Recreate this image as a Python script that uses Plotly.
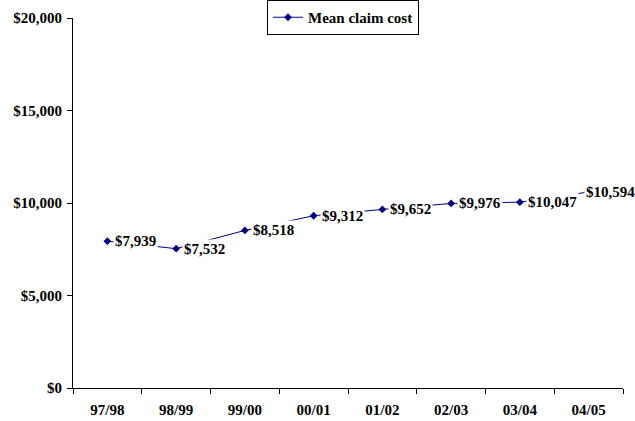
import plotly.graph_objects as go

# Mean claim cost by financial year
years = ["97/98", "98/99", "99/00", "00/01", "01/02", "02/03", "03/04", "04/05"]
mean_cost = [7939, 7532, 8518, 9312, 9652, 9976, 10047, 10594]
y_ticks = [0, 5000, 10000, 15000, 20000]
y_tick_text = [f"${v:,}" for v in y_ticks]

NAVY = "#000080"
FONT = "Liberation Serif"
SIZE = 15

fig = go.Figure()
fig.add_trace(go.Scatter(
    x=years, y=mean_cost, mode="lines+markers", name="Mean claim cost",
    line=dict(color=NAVY, width=1),
    marker=dict(symbol="diamond", size=6, color=NAVY),
))

# Data labels with a white box that hides the line behind them;
# the last one is pulled left so it stays inside the page
for i, (yr, v) in enumerate(zip(years, mean_cost)):
    last = i == len(years) - 1
    fig.add_annotation(
        x=yr, y=v, xref="x", yref="y", text=f"${v:,}", showarrow=False,
        xanchor="left", yanchor="middle", xshift=-5 if last else 6,
        bgcolor="white", borderpad=1,
        font=dict(family=FONT, size=SIZE, color="black", weight="bold"),
    )

fig.update_layout(
    width=635, height=421,
    margin=dict(l=73, r=12, t=18, b=33, autoexpand=False),
    paper_bgcolor="white", plot_bgcolor="white",
    font=dict(family=FONT, size=SIZE, color="black", weight="bold"),
    showlegend=True,
    legend=dict(
        xref="container", yref="container",
        x=267 / 635, y=1.0, xanchor="left", yanchor="top",
        bordercolor="black", borderwidth=1, bgcolor="white",
        font=dict(family=FONT, size=SIZE, color="black", weight="bold"),
        itemwidth=30, tracegroupgap=0,
    ),
)
fig.update_xaxes(
    type="category", range=[-0.5, len(years) - 0.5],
    showgrid=False, zeroline=False,
    showline=True, linecolor="black", linewidth=1,
    ticks="outside", ticklen=5, tickcolor="black", tickson="boundaries",
    ticklabelstandoff=8,
)
fig.update_yaxes(
    range=[0, 20000], tickvals=y_ticks, ticktext=y_tick_text,
    showgrid=False, zeroline=False,
    showline=True, linecolor="black", linewidth=1,
    ticks="outside", ticklen=5, tickcolor="black", ticklabelstandoff=2,
)

fig.write_html("out.html")
